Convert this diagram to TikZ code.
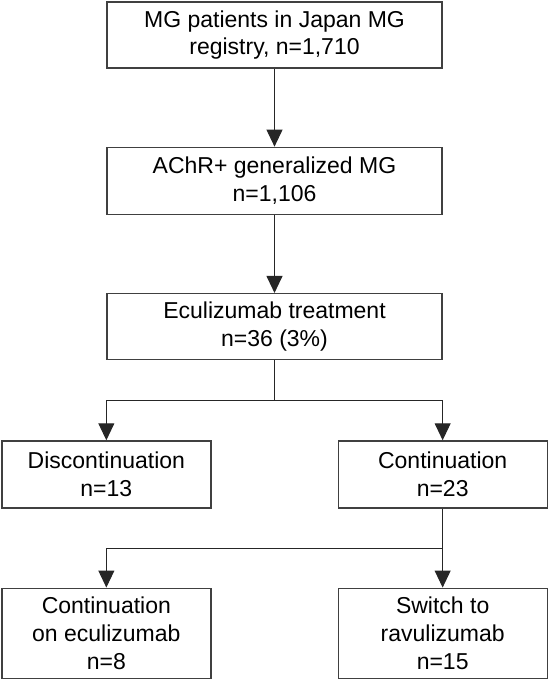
\documentclass[tikz,border=0pt]{standalone}
\usepackage{fontspec}
\setmainfont{Liberation Sans}
\usetikzlibrary{arrows.meta, positioning}
\tikzstyle{stage} = [rectangle, minimum width=335pt, minimum height=66pt, inner sep=3pt, align=center, draw=black!75, line width=1.3pt, font=\fontsize{23pt}{27.6pt}\selectfont]
\tikzstyle{branch} = [stage, minimum width=209pt]
\tikzstyle{arrow} = [line width=1pt, draw=black!85, -{Triangle[length=17pt, width=16pt]}]

\begin{document}
\begin{tikzpicture}[node distance=78pt]
\useasboundingbox (0,0) rectangle (549pt,-679pt);

\node (registry) [stage] at (274.5pt,-35pt) {MG patients in Japan MG\\registry, n=1,710};
\node (achr) [stage, minimum height=67pt, below=of registry] {AChR+ generalized MG\\n=1,106};
\node (eculi) [stage, below=of achr] {Eculizumab treatment\\n=36 (3\%)};

\node (disc) [branch, minimum height=67pt, below=80pt of eculi.south west] {Discontinuation\\n=13};
\node (cont) [branch, minimum height=67pt, below=80pt of eculi.south east] {Continuation\\n=23};

\node (stay) [branch, minimum height=90pt, below=79pt of disc] {Continuation\\on eculizumab\\n=8};
\node (switch) [branch, minimum height=90pt, below=79pt of cont] {Switch to\\ravulizumab\\n=15};

\draw [arrow] (registry) -- (achr);
\draw [arrow] (achr) -- (eculi);
\draw [arrow] (eculi.south) -- ++(0,-40pt) -| (disc.north);
\draw [arrow] (eculi.south) -- ++(0,-40pt) -| (cont.north);
\draw [arrow] (cont) -- (switch);
\draw [arrow] (cont.south) -- ++(0,-39.5pt) -| (stay.north);
\end{tikzpicture}
\end{document}
